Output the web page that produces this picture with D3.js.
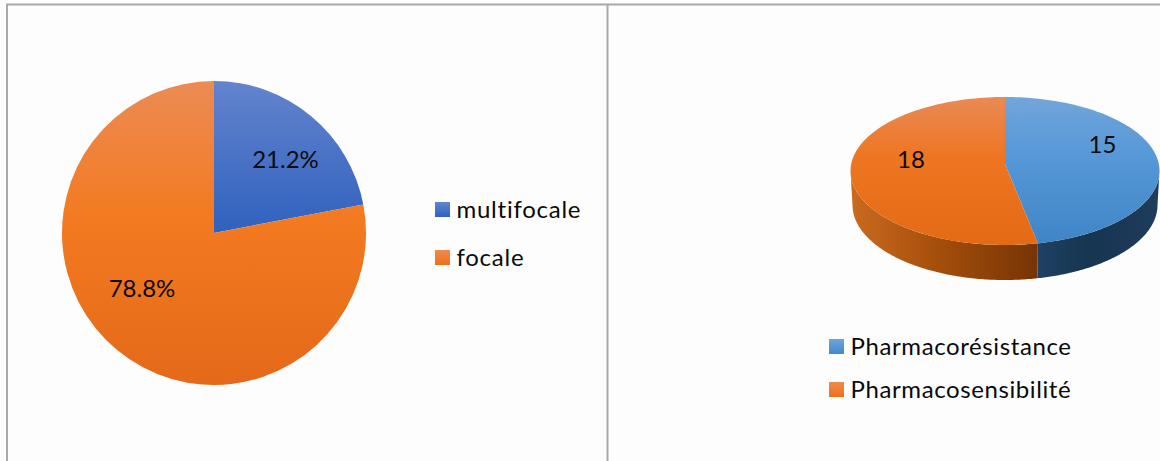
<!DOCTYPE html>
<html><head><meta charset="utf-8">
<script src="https://cdn.jsdelivr.net/npm/d3@7/dist/d3.min.js"></script>
<style>html,body{margin:0;padding:0;background:#fdfdfd;overflow:hidden}svg{display:block}text{font-family:Lato,"Open Sans",sans-serif;fill:#0a0a0a}</style>
</head><body><svg id="c" width="1160" height="461"></svg>
<script>
const leftCategories = ["multifocale", "focale"];
// Slice shares as drawn in the picture; the printed labels differ slightly from them.
const leftValues = [22, 78];
const leftLabels = ["21.2%", "78.8%"];
const rightCategories = ["Pharmacorésistance", "Pharmacosensibilité"];
const rightValues = [15, 18];

const svg = d3.select("#c");
const defs = svg.append("defs");
function grad(id, stops, horizontal) {
  const g = defs.append("linearGradient").attr("id", id)
    .attr("x1", 0).attr("y1", 0).attr("x2", horizontal ? 1 : 0).attr("y2", horizontal ? 0 : 1);
  stops.forEach(([o, c]) => g.append("stop").attr("offset", o).attr("stop-color", c));
  return `url(#${id})`;
}
const fLB = grad("lb", [[0, "#6483cd"], [1, "#2f62be"]]);
const fLO = grad("lo", [[0, "#ec8b54"], [0.45, "#f37a20"], [1, "#e4691a"]]);
const fRB = grad("rb", [[0, "#72a5da"], [0.4, "#5698d8"], [1, "#3f85c5"]]);
const fRO = grad("ro", [[0, "#e98a56"], [0.4, "#ee7622"], [1, "#e46a14"]]);
const fWB = grad("wb", [[0, "#1f4163"], [0.4, "#163550"], [1, "#1f3c5c"]], true);
const fWO = grad("wo", [[0, "#cb6a20"], [0.45, "#a64f0c"], [1, "#763404"]], true);
const fSB = grad("sb", [[0, "#5f86d0"], [1, "#2f63c0"]]);
const fSO = grad("so", [[0, "#f08a4e"], [1, "#ee7019"]]);
const fSRB = grad("srb", [[0, "#6ea4dc"], [1, "#4489c8"]]);

// frame
const frame = svg.append("g").attr("stroke", "#a8a8a8").attr("stroke-width", 2);
frame.append("line").attr("x1", 6).attr("x2", 1160).attr("y1", 4.5).attr("y2", 4.5);
frame.append("line").attr("x1", 7).attr("x2", 7).attr("y1", 4).attr("y2", 461);
frame.append("line").attr("x1", 607.5).attr("x2", 607.5).attr("y1", 4).attr("y2", 461);

// left pie
const pie = d3.pie().sort(null).value(d => d);
const leftArc = d3.arc().innerRadius(0).outerRadius(152);
const lg = svg.append("g").attr("transform", "translate(214,233)");
const leftFill = d3.scaleOrdinal().domain(leftCategories).range([fLB, fLO]);
lg.selectAll("path").data(pie(leftValues)).join("path")
  .attr("d", leftArc).attr("fill", (d, i) => leftFill(leftCategories[i]));
const leftLabelPos = d3.scaleOrdinal().domain(leftLabels).range([[285.5, 168], [142, 297]]);
svg.selectAll("text.ll").data(leftLabels).join("text").attr("class", "ll")
  .attr("x", d => leftLabelPos(d)[0]).attr("y", d => leftLabelPos(d)[1])
  .attr("text-anchor", "middle").attr("font-size", 24).text(d => d);

function legend(items, fills, x, ys, textX, fs, sp) {
  const g = svg.append("g");
  g.selectAll("rect").data(items).join("rect")
    .attr("x", x).attr("y", (d, i) => ys[i] - 16).attr("width", 15).attr("height", 15)
    .attr("fill", (d, i) => fills[i]);
  g.selectAll("text").data(items).join("text")
    .attr("x", textX).attr("y", (d, i) => ys[i]).attr("font-size", fs).attr("letter-spacing", sp).text(d => d);
}
legend(leftCategories, [fSB, fSO], 435, [218, 266], 456.5, 24, 0.75);

// right pie (tilted, with depth)
const cx = 1005, topC = 171, rx = 154.5, ry = 74, apexY = 164;
const botC = 205, botRx = 152.5, botRy = 75;
const persp = a => a + 0.254 * Math.sin(a);          // foreshortening of the tilted disc
const ptTop = a => [cx + rx * Math.sin(a), topC - ry * Math.cos(a)];
const ptBot = a => [cx + botRx * Math.sin(a), botC - botRy * Math.cos(a)];
const line = d3.line();
const samples = (a0, a1, f) => d3.range(0, 121).map(i => f(a0 + (a1 - a0) * i / 120));

const slices = pie(rightValues);
const topFills = d3.scaleOrdinal().domain(rightCategories).range([fRB, fRO]);
const wallFills = d3.scaleOrdinal().domain(rightCategories).range([fWB, fWO]);
const rg = svg.append("g");
slices.forEach((s, i) => {
  const a0 = persp(s.startAngle), a1 = persp(s.endAngle);
  const w0 = Math.max(a0, Math.PI / 2), w1 = Math.min(a1, 3 * Math.PI / 2);
  if (w1 > w0) {
    const pts = samples(w0, w1, ptTop).concat(samples(w1, w0, ptBot));
    rg.append("path").attr("d", line(pts) + "Z").attr("fill", wallFills(rightCategories[i]));
  }
});
slices.forEach((s, i) => {
  const a0 = persp(s.startAngle), a1 = persp(s.endAngle);
  const pts = [[cx, apexY]].concat(samples(a0, a1, ptTop));
  rg.append("path").attr("d", line(pts) + "Z").attr("fill", topFills(rightCategories[i]));
});
const rightLabelPos = d3.scaleOrdinal().domain(rightValues).range([[1102.5, 153], [911, 168]]);
svg.selectAll("text.rl").data(rightValues).join("text").attr("class", "rl")
  .attr("x", d => rightLabelPos(d)[0]).attr("y", d => rightLabelPos(d)[1])
  .attr("text-anchor", "middle").attr("font-size", 24).text(d => d);
legend(rightCategories, [fSRB, fSO], 829, [355, 398], 850.5, 24, 0.6);
</script></body></html>
